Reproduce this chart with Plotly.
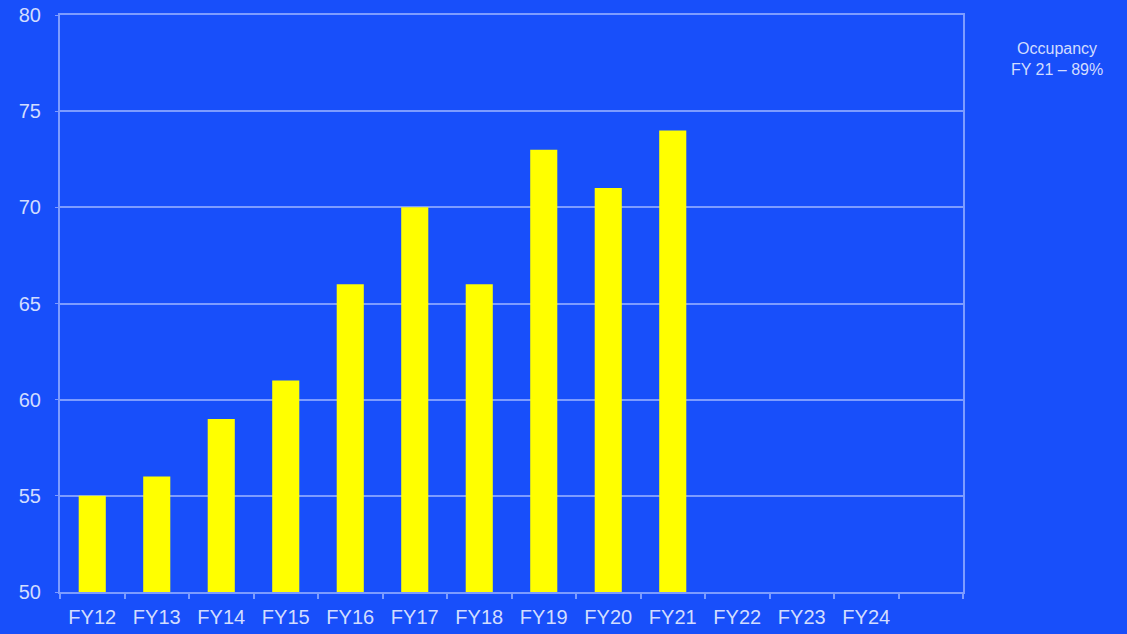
import plotly.graph_objects as go

categories = ["FY12", "FY13", "FY14", "FY15", "FY16", "FY17", "FY18",
              "FY19", "FY20", "FY21", "FY22", "FY23", "FY24", " "]
values = [55, 56, 59, 61, 66, 70, 66, 73, 71, 74, None, None, None, None]
y_ticks = [50, 55, 60, 65, 70, 75, 80]
note_text = "Occupancy<br>FY 21 – 89%"

BG = "#184ffa"
GRID = "#7d9cff"
TXT = "#d2ddff"

fig = go.Figure(go.Bar(x=categories, y=values, marker=dict(color="#ffff00", line=dict(width=0)),
                       width=0.42))

fig.update_layout(
    width=1127, height=634,
    paper_bgcolor=BG, plot_bgcolor=BG,
    margin=dict(l=60, r=164, t=15, b=42),
    showlegend=False,
    font=dict(family="Liberation Sans, Arial, sans-serif", color=TXT, size=20),
)
fig.update_xaxes(
    type="category", categoryorder="array", categoryarray=categories,
    range=[-0.5, len(categories) - 0.5], automargin=False,
    showline=True, linecolor=GRID, linewidth=2, mirror=True,
    ticks="outside", tickson="boundaries", ticklen=5, tickcolor=GRID, tickwidth=2,
    showgrid=False, tickfont=dict(size=20, color=TXT), ticklabelstandoff=6,
)
fig.update_yaxes(
    range=[50, 80], tickvals=y_ticks, automargin=False,
    showline=True, linecolor=GRID, linewidth=2, mirror=True,
    showgrid=True, gridcolor=GRID, gridwidth=2,
    ticks="outside", ticklen=3, tickcolor=GRID,
    tickfont=dict(size=20, color=TXT), zeroline=False, ticklabelstandoff=10,
)
fig.add_annotation(text=note_text, xref="paper", yref="paper", x=1.1045, y=0.96,
                   xanchor="center", yanchor="top", showarrow=False,
                   font=dict(size=16, color=TXT), align="center")

fig.write_html("out.html", config={"displayModeBar": False},
               post_script="document.body.style.margin='0';document.body.style.background='%s';" % BG)
